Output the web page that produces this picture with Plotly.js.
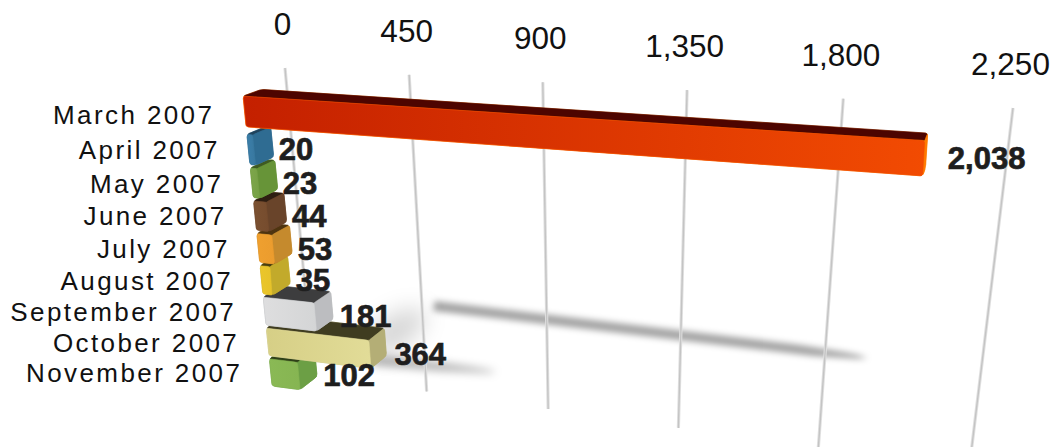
<!DOCTYPE html>
<html>
<head>
<meta charset="utf-8">
<script src="https://cdn.plot.ly/plotly-3.0.1.min.js"></script>
<style>
  html, body { margin: 0; padding: 0; background: #fff; }
  #chart { width: 1056px; height: 447px; }
  /* Month labels are set with open tracking */
  .textpoint text[style*="font-size: 26px"] { letter-spacing: 2.4px; }
  /* Value labels carry a slightly heavier weight than the bold face */
  .textpoint text[style*="font-size: 31px"] { stroke: #1e1e1e; stroke-width: 0.7px; }
  /* Floor shadows: the first three traces */
  .scatterlayer .trace:nth-child(1) { filter: blur(11px); }
  .scatterlayer .trace:nth-child(2) { filter: blur(3px); }
  .scatterlayer .trace:nth-child(3) { filter: blur(4px); }
</style>
</head>
<body>
<div id="chart"></div>
<script>
// Monthly totals
const categories = ["March 2007", "April 2007", "May 2007", "June 2007", "July 2007",
                    "August 2007", "September 2007", "October 2007", "November 2007"];
const values = [2038, 20, 23, 44, 53, 35, 181, 364, 102];
const tickValues = [0, 450, 900, 1350, 1800, 2250];

// Face colours per bar: front start, front end, side, top
const frontStart = ["#c42000", "#3b7ea9", "#7da64a", "#7b5131", "#efa02f", "#ebc62b", "#dededf", "#d6cf86", "#8ab955"];
const frontEnd   = ["#f24b02", "#39789f", "#76a045", "#764c2e", "#eb9c2e", "#e6c22a", "#d4d5d6", "#e2dc98", "#86b552"];
const sideColor  = ["#ff7a00", "#2f6c92", "#679438", "#69442a", "#c58a2d", "#c2aa2b", "#bcbdc0", "#b4ae76", "#6c9f45"];
const topColor   = ["#4d0500", "#20435c", "#3e5a22", "#2e1e12", "#4e3410", "#4a3f10", "#3d3d3e", "#3f3c20", "#2f4018"];

// Perspective set-up
const vanish = [1060, -200];
const depth = 0.0224;
const halfBar = 0.45;
const firstRowShift = -0.12;
const cornerRadius = 2.5;
const vMax = Math.max(...tickValues);
const barMax = Math.max(...values);

// Projective map of the unit square onto a quad (p00, p10, p11, p01)
function quadMap(p00, p10, p11, p01) {
  const dx1 = p10[0] - p11[0], dx2 = p01[0] - p11[0], sx = p00[0] - p10[0] + p11[0] - p01[0];
  const dy1 = p10[1] - p11[1], dy2 = p01[1] - p11[1], sy = p00[1] - p10[1] + p11[1] - p01[1];
  const det = dx1 * dy2 - dx2 * dy1;
  const g = (sx * dy2 - dx2 * sy) / det;
  const h = (dx1 * sy - sx * dy1) / det;
  const a = p10[0] - p00[0] + g * p10[0], b = p01[0] - p00[0] + h * p01[0], c = p00[0];
  const d = p10[1] - p00[1] + g * p10[1], e = p01[1] - p00[1] + h * p01[1], f = p00[1];
  return (u, w) => {
    const q = g * u + h * w + 1;
    return [(a * u + b * w + c) / q, (d * u + e * w + f) / q];
  };
}

// Back wall carrying the gridlines; front plane carrying the bar faces
const wallMap = quadMap([285, 68], [1013, 108], [969, 470], [313, 375]);
const barMap = quadMap([243.3, 98.5], [924.5, 143.5], [905, 470.5], [272.3, 387.5]);
const rowSpan = [-0.5, 8.5];

const wall = (v, w) => wallMap(v / vMax, w);
const front = (v, r) => barMap(v / barMax, (r - rowSpan[0]) / (rowSpan[1] - rowSpan[0]));
const back = p => [p[0] + depth * (vanish[0] - p[0]), p[1] + depth * (vanish[1] - p[1])];

// Replace each corner of a polygon with a short curve
function rounded(points, radius) {
  const out = [];
  points.forEach((p, i) => {
    const prev = points[(i + points.length - 1) % points.length];
    const next = points[(i + 1) % points.length];
    const lp = Math.hypot(prev[0] - p[0], prev[1] - p[1]);
    const ln = Math.hypot(next[0] - p[0], next[1] - p[1]);
    const rp = Math.min(radius, lp * 0.45), rn = Math.min(radius, ln * 0.45);
    const s = [p[0] + (prev[0] - p[0]) * rp / lp, p[1] + (prev[1] - p[1]) * rp / lp];
    const e = [p[0] + (next[0] - p[0]) * rn / ln, p[1] + (next[1] - p[1]) * rn / ln];
    for (let k = 0; k <= 4; k++) {
      const t = k / 4, m = 1 - t;
      out.push([m * m * s[0] + 2 * m * t * p[0] + t * t * e[0],
                m * m * s[1] + 2 * m * t * p[1] + t * t * e[1]]);
    }
  });
  return out;
}

function polygon(points, fill) {
  const t = {
    type: "scatter", mode: "lines", fill: "toself", hoverinfo: "skip", showlegend: false,
    x: points.map(p => p[0]).concat(points[0][0]),
    y: points.map(p => p[1]).concat(points[0][1])
  };
  if (Array.isArray(fill)) {
    t.fillgradient = { type: "horizontal", colorscale: [[0, fill[0]], [1, fill[1]]] };
    t.line = { width: 0.6, color: fill[1] };
  } else {
    t.fillcolor = fill;
    t.line = { width: 0.6, color: fill };
  }
  return t;
}

// Floor shadow: a band around a segment, tapering toward its far end
function band(a, b, halfWidth, alpha, tail) {
  const nx = -(b[1] - a[1]), ny = b[0] - a[0], len = Math.hypot(nx, ny);
  const upper = [], lower = [];
  for (let i = 0; i <= 40; i++) {
    const s = i / 40;
    const w = halfWidth * Math.min(1, Math.sqrt((1 - s) / tail));
    const px = a[0] + (b[0] - a[0]) * s, py = a[1] + (b[1] - a[1]) * s;
    upper.push([px + nx / len * w, py + ny / len * w]);
    lower.unshift([px - nx / len * w, py - ny / len * w]);
  }
  const t = polygon(upper.concat(lower), "rgba(0,0,0," + alpha + ")");
  t.line = { width: 0 };
  return t;
}

const traces = [];

// Shadows sit beneath everything
traces.push(band([375, 345], [425, 312], 16, 0.16, 0.4));
traces.push(band([434, 306], [868, 358], 5, 0.36, 0.16));
traces.push(band([372, 360], [496, 372], 5, 0.3, 0.6));

// Gridlines: a pale casing with a darker core
tickValues.forEach(v => {
  const pts = [wall(v, 0), wall(v, 1)];
  [{ color: "#e0e0e0", width: 3.2 }, { color: "#c4c4c4", width: 1.4 }].forEach(line => {
    traces.push({
      type: "scatter", mode: "lines", hoverinfo: "skip", showlegend: false,
      x: pts.map(p => p[0]), y: pts.map(p => p[1]),
      line: line
    });
  });
});

// Bars, painted from the bottom row upward so upper bars overlap lower ones
const rowOf = i => i + (i === 0 ? firstRowShift : 0);
for (let i = values.length - 1; i >= 0; i--) {
  const r = rowOf(i), v = values[i];
  const a = front(0, r - halfBar), b = front(v, r - halfBar);
  const c = front(v, r + halfBar), d = front(0, r + halfBar);
  const outline = [a, back(a), back(b), back(c), c, d];
  traces.push(polygon(rounded(outline, cornerRadius + 0.5), sideColor[i]));
  traces.push(polygon(rounded([a, b, back(b), back(a)], cornerRadius), topColor[i]));
  traces.push(polygon(rounded([b, back(b), back(c), c], cornerRadius), sideColor[i]));
  traces.push(polygon(rounded([a, b, c, d], cornerRadius), [frontStart[i], frontEnd[i]]));
}

// Value labels beyond each bar's end
const valueLabelPts = values.map((v, i) => {
  const r = rowOf(i);
  const outer = back(front(v, r - halfBar))[0];
  const mid = front(v, r);
  return [outer + 8 + 0.0185 * (outer - 273), mid[1] + 2.5];
});
traces.push({
  type: "scatter", mode: "text", hoverinfo: "skip", showlegend: false,
  x: valueLabelPts.map(p => p[0]), y: valueLabelPts.map(p => p[1]),
  text: values.map(v => v.toLocaleString("en-US")),
  textposition: "middle right",
  textfont: { family: "Liberation Sans", size: 31, color: "#1e1e1e", weight: "bold" }
});

// Month labels to the left of the bars
const categoryPts = categories.map((c, i) => {
  const p = front(0, i === 0 ? -0.05 : i);
  return [p[0] - (i === 0 ? 30.5 : 28.5), p[1] + 3.2];
});
traces.push({
  type: "scatter", mode: "text", hoverinfo: "skip", showlegend: false,
  x: categoryPts.map(p => p[0]), y: categoryPts.map(p => p[1]),
  text: categories,
  textposition: "middle left",
  textfont: { family: "Liberation Sans", size: 26, color: "#111111" }
});

// Value axis labels above the gridlines
const tickPts = tickValues.map(v => wall(v, 0));
traces.push({
  type: "scatter", mode: "text", hoverinfo: "skip", showlegend: false,
  x: tickPts.map(p => p[0] - 2.5), y: tickPts.map(p => p[1] - 41),
  text: tickValues.map(v => v.toLocaleString("en-US")),
  textposition: "middle center",
  textfont: { family: "Liberation Sans", size: 31.5, color: "#111111" }
});

const layout = {
  width: 1056, height: 447,
  margin: { l: 0, r: 0, t: 0, b: 0 },
  paper_bgcolor: "#ffffff", plot_bgcolor: "#ffffff",
  showlegend: false,
  xaxis: { range: [0, 1056], visible: false, fixedrange: true },
  yaxis: { range: [447, 0], visible: false, fixedrange: true }
};

Plotly.newPlot("chart", traces, layout, { displayModeBar: false, staticPlot: true });
</script>
</body>
</html>
